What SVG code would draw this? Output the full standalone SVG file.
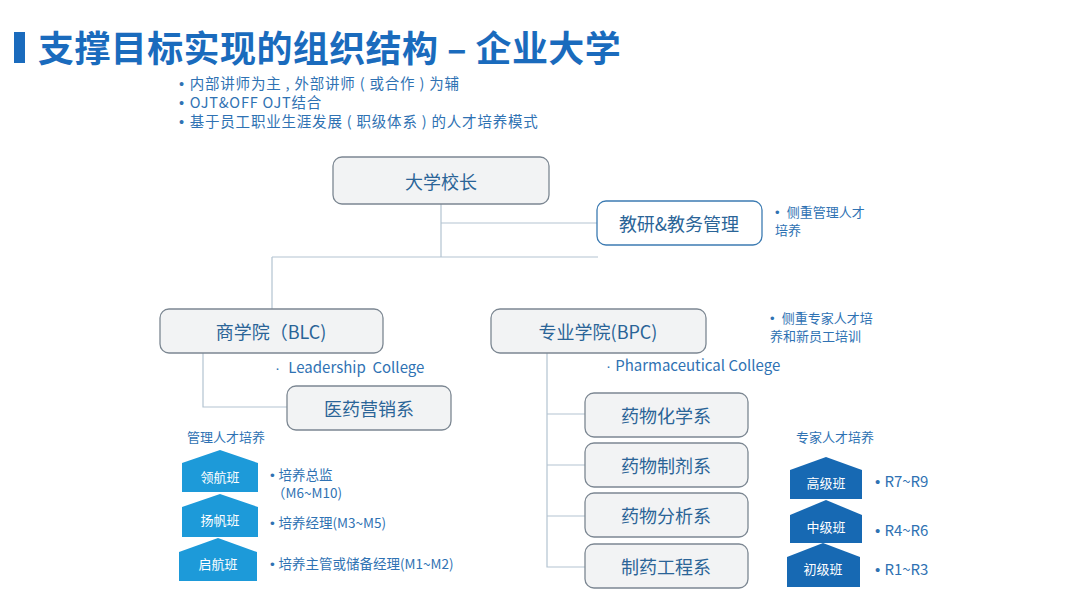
<svg xmlns="http://www.w3.org/2000/svg" width="1080" height="608" viewBox="0 0 1080 608">
<style>
text{font-family:"Noto Sans CJK SC","Noto Sans",sans-serif;white-space:pre;}
.title{font-size:36px;font-weight:bold;fill:#1a6bbd;letter-spacing:0.4px;}
.b{font-size:15px;fill:#2f72b3;}
.h{font-size:14.5px;fill:#2f72b3;letter-spacing:0.8px;}
.s{font-size:13px;fill:#2f72b3;}
.m{font-size:13.5px;fill:#2f72b3;}
.d{font-family:"Liberation Sans",sans-serif;}
.n{font-size:18px;fill:#2a6497;text-anchor:middle;dominant-baseline:central;}
.grey{fill:#f2f3f4;stroke:#7c8792;stroke-width:1.3;}
.white{fill:#ffffff;stroke:#3c7bb2;stroke-width:1.3;}
.conn{fill:none;stroke:#b3c4d1;stroke-width:1.2;}
.pl{fill:#1d9ad9;}
.pr{fill:#1769b3;}
.pt{font-size:13px;fill:#ffffff;text-anchor:middle;dominant-baseline:central;}
</style>
<rect x="0" y="0" width="1080" height="608" fill="#ffffff"/>
<g id="title">
<rect x="14" y="32" width="11" height="31" fill="#1a6bbd"/>
<text class="title" x="38" y="62">支撑目标实现的组织结构 – 企业大学</text>
</g>
<g id="bullets">
<text class="h" x="179" y="89"><tspan class="d">• </tspan>内部讲师为主 , 外部讲师 ( 或合作 ) 为辅</text>
<text class="h" x="179" y="108"><tspan class="d">• </tspan>OJT&amp;OFF OJT结合</text>
<text class="h" x="179" y="127"><tspan class="d">• </tspan>基于员工职业生涯发展 ( 职级体系 ) 的人才培养模式</text>
</g>
<g id="connectors">
<path class="conn" d="M441 204 V257 M441 223 H598 M272 257 H598 M272 257 V309"/>
<path class="conn" d="M203 353 V407 H288"/>
<path class="conn" d="M547 353 V567 H585 M547 414 H585 M547 465 H585 M547 516 H585"/>
</g>
<g id="president">
<rect class="grey" x="333" y="157" width="216" height="47" rx="9"/>
<text class="n" x="441" y="181">大学校长</text>
</g>
<g id="admin">
<rect class="white" x="597" y="201" width="165" height="44" rx="9"/>
<text class="n" x="679" y="223">教研&amp;教务管理</text>
<text class="s" x="775" y="217"><tspan class="d">•  </tspan>侧重管理人才</text>
<text class="s" x="775" y="235">培养</text>
</g>
<g id="blc">
<rect class="grey" x="160" y="309" width="223" height="44" rx="9"/>
<text class="n" x="271" y="331">商学院（BLC)</text>
<text class="b" x="275" y="373"><tspan class="d">·  </tspan>Leadership  College</text>
</g>
<g id="marketing">
<rect class="grey" x="287" y="386" width="164" height="44" rx="9"/>
<text class="n" x="369" y="408">医药营销系</text>
</g>
<g id="bpc">
<rect class="grey" x="491" y="309" width="215" height="44" rx="9"/>
<text class="n" x="598" y="331">专业学院(BPC)</text>
<text class="b" x="606" y="371"><tspan class="d">· </tspan>Pharmaceutical College</text>
<text class="s" x="770" y="323"><tspan class="d">•  </tspan>侧重专家人才培</text>
<text class="s" x="770" y="341">养和新员工培训</text>
</g>
<g id="dept1">
<rect class="grey" x="585" y="393" width="163" height="44" rx="9"/>
<text class="n" x="666" y="415">药物化学系</text>
</g>
<g id="dept2">
<rect class="grey" x="585" y="443" width="163" height="44" rx="9"/>
<text class="n" x="666" y="465">药物制剂系</text>
</g>
<g id="dept3">
<rect class="grey" x="585" y="493" width="163" height="44" rx="9"/>
<text class="n" x="666" y="515">药物分析系</text>
</g>
<g id="dept4">
<rect class="grey" x="585" y="544" width="163" height="44" rx="9"/>
<text class="n" x="666" y="566">制药工程系</text>
</g>
<g id="mgmt">
<text class="s" x="187" y="442">管理人才培养</text>
<polygon class="pl" points="182,463 220,450 258,463 258,492 182,492"/>
<text class="pt" x="220" y="476">领航班</text>
<polygon class="pl" points="182,507 220,494 258,507 258,537 182,537"/>
<text class="pt" x="220" y="519">扬帆班</text>
<polygon class="pl" points="179,552 218,538 257,552 257,581 179,581"/>
<text class="pt" x="218" y="563">启航班</text>
<text class="m" x="270" y="480"><tspan class="d">• </tspan>培养总监</text>
<text class="m" x="272" y="498">（M6~M10)</text>
<text class="m" x="270" y="528"><tspan class="d">• </tspan>培养经理(M3~M5)</text>
<text class="m" x="270" y="569"><tspan class="d">• </tspan>培养主管或储备经理(M1~M2)</text>
</g>
<g id="expert">
<text class="s" x="796" y="442">专家人才培养</text>
<polygon class="pr" points="790,470 826,457 862,470 862,499 790,499"/>
<text class="pt" x="826" y="482">高级班</text>
<polygon class="pr" points="790,515 826,500 862,515 862,543 790,543"/>
<text class="pt" x="826" y="526">中级班</text>
<polygon class="pr" points="787,557 823,543 860,557 860,587 787,587"/>
<text class="pt" x="823" y="568">初级班</text>
<text class="b" x="875" y="487"><tspan class="d">• </tspan>R7~R9</text>
<text class="b" x="875" y="536"><tspan class="d">• </tspan>R4~R6</text>
<text class="b" x="875" y="575"><tspan class="d">• </tspan>R1~R3</text>
</g>
</svg>
